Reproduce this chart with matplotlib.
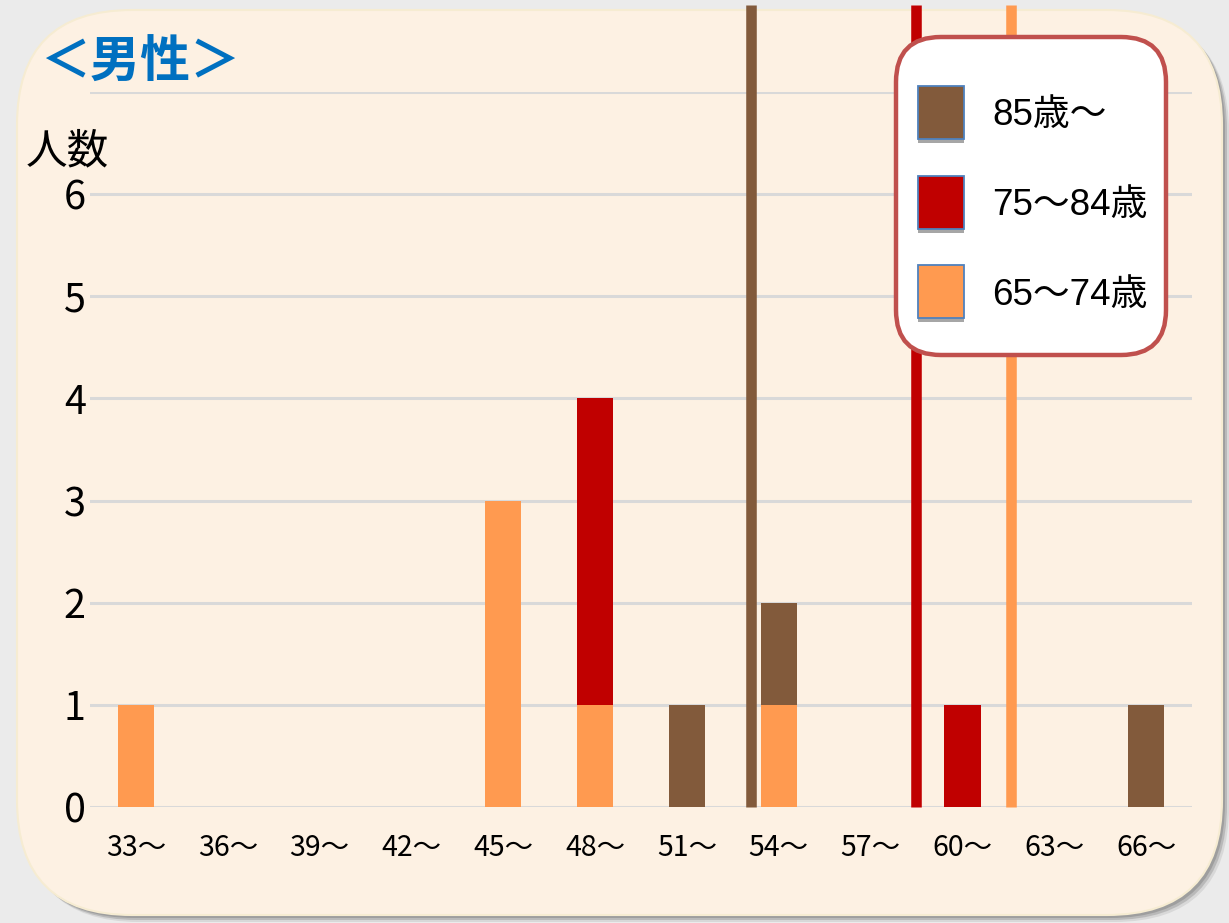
import matplotlib.pyplot as plt
from matplotlib.patches import FancyBboxPatch, Rectangle
import numpy as np

plt.rcParams['font.family'] = ['Noto Sans CJK JP', 'DejaVu Sans']

# age bands on the x axis
categories = ['33～', '36～', '39～', '42～', '45～', '48～',
              '51～', '54～', '57～', '60～', '63～', '66～']
band_start = [33, 36, 39, 42, 45, 48, 51, 54, 57, 60, 63, 66]

# head counts per age group (stacked bottom to top)
age_65_74 = [1, 0, 0, 0, 3, 1, 0, 1, 0, 0, 0, 0]
age_75_84 = [0, 0, 0, 0, 0, 3, 0, 0, 0, 1, 0, 0]
age_85_up = [0, 0, 0, 0, 0, 0, 1, 1, 0, 0, 0, 1]

# average values for each group, drawn as vertical lines
avg_85_up = 53.1
avg_75_84 = 58.5
avg_65_74 = 61.6

series_names = ['85歳～', '75～84歳', '65～74歳']
c_brown = '#825a3b'
c_red = '#c00000'
c_orange = '#ff9a50'

W, H = 1229, 923
fig = plt.figure(figsize=(W / 100, H / 100), dpi=100)
fig.patch.set_facecolor('#ebebeb')

# background layer in pixel units
bg = fig.add_axes([0, 0, 1, 1])
bg.set_xlim(0, W)
bg.set_ylim(H, 0)
bg.axis('off')
for off, a in [(7, 0.2), (5, 0.4), (3, 0.6)]:
    bg.add_patch(FancyBboxPatch((17 + off, 10 + off), 1205, 905,
                                boxstyle='round,pad=0,rounding_size=115',
                                fc='#8c8c8c', ec='none', alpha=a))
bg.add_patch(FancyBboxPatch((17, 10), 1205, 905,
                            boxstyle='round,pad=0,rounding_size=115',
                            fc='#fdf1e3', ec='#f6ecd2', lw=1.5))

# chart area
ax = fig.add_axes([90 / W, 1 - 807 / H, 1102 / W, 715 / H])
ax.set_facecolor('none')
x = np.arange(len(categories))
bw = 0.395

b1 = np.array(age_65_74)
b2 = b1 + np.array(age_75_84)
ax.bar(x, age_65_74, width=bw, color=c_orange, zorder=2)
ax.bar(x, age_75_84, width=bw, bottom=b1, color=c_red, zorder=2)
ax.bar(x, age_85_up, width=bw, bottom=b2, color=c_brown, zorder=2)

# average lines, positioned on the same band scale
for avg, col in [(avg_85_up, c_brown), (avg_75_84, c_red), (avg_65_74, c_orange)]:
    xp = (avg - band_start[0]) / (band_start[1] - band_start[0])
    ax.plot([xp, xp], [0, 7.85], color=col, lw=7.6,
            solid_capstyle='butt', clip_on=False, zorder=3)

ax.set_xlim(-0.5, 11.5)
ax.set_ylim(0, 7)
ax.set_yticks(range(8))
ax.set_yticklabels([str(i) for i in range(7)] + [''], fontsize=28.5)
ax.set_xticks(x)
ax.set_xticklabels(categories, fontsize=20.5)
ax.tick_params(length=0)
ax.tick_params(axis='y', pad=3)
ax.tick_params(axis='x', pad=19)
ax.yaxis.grid(True, color='#d9d9d9', lw=2.2, zorder=0)
ax.set_axisbelow(True)
for s in ax.spines.values():
    s.set_visible(False)

# overlay for title and legend
top = fig.add_axes([0, 0, 1, 1])
top.set_xlim(0, W)
top.set_ylim(H, 0)
top.axis('off')
top.patch.set_alpha(0)

top.text(41, 63, '＜男性＞', fontsize=36, fontweight='bold',
         color='#0070c0', va='center', ha='left')
top.text(26, 152, '人数', fontsize=30, va='center', ha='left')

top.add_patch(FancyBboxPatch((896, 37), 270, 318,
                             boxstyle='round,pad=0,rounding_size=45',
                             fc='white', ec='#c0504d', lw=3.2, zorder=5))
rows_y = [86, 176, 265]
for name, col, ry in zip(series_names, [c_brown, c_red, c_orange], rows_y):
    top.add_patch(Rectangle((918, ry + 53), 46, 4, fc='#a6a6a6', ec='none', zorder=6))
    top.add_patch(Rectangle((918, ry), 46, 53, fc=col, ec='#4f81bd', lw=1.3, zorder=7))
    top.text(992, ry + 30, name, fontsize=26.5, va='center', ha='left', zorder=8,
             family=['Liberation Sans', 'Noto Sans CJK JP'])

fig.savefig('out.png', dpi=100, facecolor=fig.get_facecolor())
